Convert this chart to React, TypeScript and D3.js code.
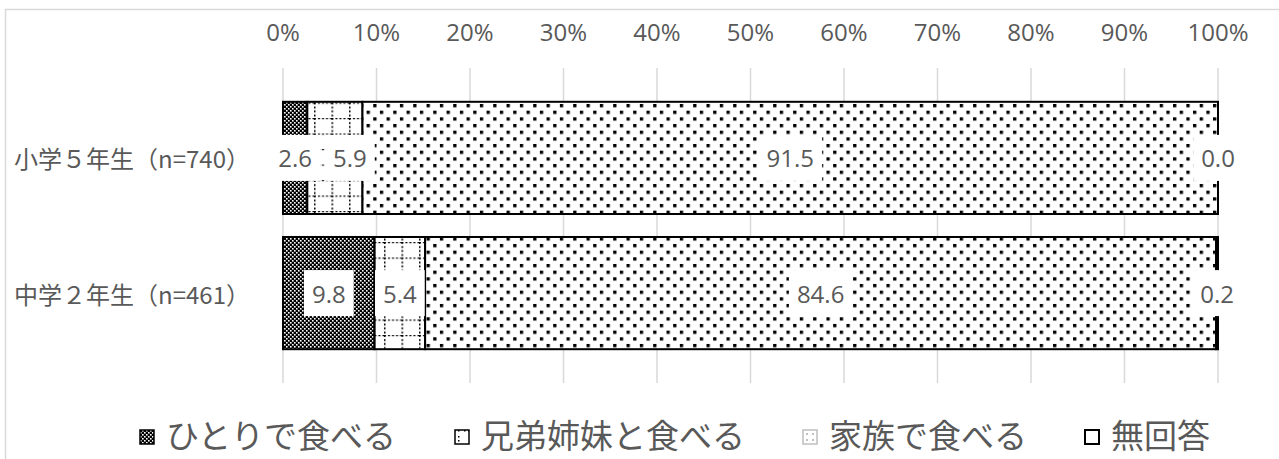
import React from "react";
import * as d3 from "d3";

const categories = ["小学５年生（n=740）", "中学２年生（n=461）"];
const seriesNames = ["ひとりで食べる", "兄弟姉妹と食べる", "家族で食べる", "無回答"];
const alone = [2.6, 9.8];
const siblings = [5.9, 5.4];
const family = [91.5, 84.6];
const noAnswer = [0.0, 0.2];
const tickValues = [0, 10, 20, 30, 40, 50, 60, 70, 80, 90, 100];

const W = 1279;
const H = 459;
const TEXT = "#595959";
const GRID = "#d9d9d9";
const NUM_FONT = "'Open Sans', 'DejaVu Sans', sans-serif";
const JP_FONT = "'Noto Sans CJK JP', 'Noto Sans', sans-serif";

const fills = ["url(#pAlone)", "url(#pSib)", "url(#pFam)", "#ffffff"];

let ctx: CanvasRenderingContext2D | null = null;
function measure(text: string, font: string): number {
  if (!ctx) ctx = document.createElement("canvas").getContext("2d");
  if (!ctx) return text.length * 12;
  ctx.font = font;
  return ctx.measureText(text).width;
}

export default function App() {
  const rows = categories.map((c, i) => ({
    cat: c,
    [seriesNames[0]]: alone[i],
    [seriesNames[1]]: siblings[i],
    [seriesNames[2]]: family[i],
    [seriesNames[3]]: noAnswer[i],
  }));
  const stack = d3.stack<any>().keys(seriesNames)(rows);

  const x = d3.scaleLinear().domain([0, 100]).range([283, 1218]);
  const y = d3
    .scaleBand<string>()
    .domain(categories)
    .range([68, 383])
    .paddingInner(0.17)
    .paddingOuter(0.25);
  const bw = y.bandwidth();

  // Data labels with overlap avoidance
  const labelFontSize = 24;
  const labelFont = `${labelFontSize}px 'Open Sans'`;
  const pad = 8;
  const boxH = 46;
  const labels: { x: number; y: number; w: number; text: string }[] = [];
  categories.forEach((c, ci) => {
    let prevRight = -Infinity;
    stack.forEach((s) => {
      const d = s[ci];
      const v = d[1] - d[0];
      const text = v.toFixed(1);
      const w = measure(text, labelFont) + pad * 2;
      let cx = x((d[0] + d[1]) / 2);
      if (cx - w / 2 < prevRight + 5) cx = prevRight + 5 + w / 2;
      prevRight = cx + w / 2;
      labels.push({ x: cx, y: (y(c) as number) + bw / 2, w, text });
    });
  });

  // Legend layout
  const legFontSize = 33;
  const legFont = `${legFontSize}px 'Noto Sans CJK JP'`;
  const iconSize = 14;
  const iconGap = 12;
  const itemGap = 58;
  const widths = seriesNames.map((n) => iconSize + iconGap + measure(n, legFont));
  const total = d3.sum(widths) + itemGap * (seriesNames.length - 1);
  let lx = 675 - total / 2;
  const legendItems = seriesNames.map((n, i) => {
    const item = { name: n, x: lx, i };
    lx += widths[i] + itemGap;
    return item;
  });
  const legY = 434;

  return (
    <svg
      width={W}
      height={H}
      style={{ position: "absolute", left: 0, top: 0, background: "#fff" }}
    >
      <defs>
        <pattern id="pAlone" patternUnits="userSpaceOnUse" width={4} height={4}>
          <rect width={4} height={4} fill="#000" />
          <rect x={0} y={0} width={1.6} height={1.6} fill="#fff" />
          <rect x={2} y={2} width={1.6} height={1.6} fill="#fff" />
        </pattern>
        <pattern id="pSib" patternUnits="userSpaceOnUse" width={17.5} height={15.5} x={314} y={118}>
          <rect width={17.5} height={15.5} fill="#fff" />
          <line x1={0.5} y1={0} x2={0.5} y2={15.5} stroke="#000" strokeWidth={2} strokeDasharray="2,2" />
          <line x1={0} y1={0.5} x2={17.5} y2={0.5} stroke="#000" strokeWidth={1.4} strokeDasharray="2,2" />
        </pattern>
        <pattern id="pFam" patternUnits="userSpaceOnUse" width={13.33} height={13.33} x={0} y={104}>
          <rect width={13.33} height={13.33} fill="#fff" />
          <rect x={0} y={0} width={3.3} height={3.3} fill="#000" />
          <rect x={6.67} y={6.67} width={3.3} height={3.3} fill="#000" />
        </pattern>
        <pattern id="pSibIcon" patternUnits="userSpaceOnUse" width={14} height={14} x={0} y={0}>
          <rect width={14} height={14} fill="#fff" />
          <rect x={10} y={2} width={1.5} height={1.5} fill="#000" />
          <rect x={10} y={6} width={1.5} height={1.5} fill="#000" />
          <rect x={2} y={10} width={1.5} height={1.5} fill="#000" />
          <rect x={6} y={10} width={1.5} height={1.5} fill="#000" />
          <rect x={10} y={10} width={1.5} height={1.5} fill="#000" />
        </pattern>
      </defs>

      {/* chart frame */}
      <rect x={5.5} y={9.5} width={1400} height={600} fill="none" stroke={GRID} strokeWidth={1.5} />

      {/* gridlines */}
      {tickValues.map((t) => (
        <line key={t} x1={x(t)} x2={x(t)} y1={68} y2={383} stroke={GRID} strokeWidth={1.5} />
      ))}

      {/* tick labels */}
      {tickValues.map((t) => (
        <text
          key={"t" + t}
          x={x(t)}
          y={31}
          textAnchor="middle"
          dominantBaseline="central"
          fontFamily={NUM_FONT}
          fontSize={24}
          fill={TEXT}
        >
          {t + "%"}
        </text>
      ))}

      {/* bars */}
      {stack.map((s, si) =>
        s.map((d, ci) => (
          <rect
            key={si + "-" + ci}
            x={x(d[0])}
            y={y(categories[ci]) as number}
            width={Math.max(0, x(d[1]) - x(d[0]))}
            height={bw}
            fill={fills[si]}
            stroke="#000"
            strokeWidth={2}
          />
        ))
      )}

      {/* data labels */}
      {labels.map((l, i) => (
        <g key={"l" + i}>
          <rect x={l.x - l.w / 2} y={l.y - boxH / 2} width={l.w} height={boxH} fill="#fff" />
          <text
            x={l.x}
            y={l.y}
            textAnchor="middle"
            dominantBaseline="central"
            fontFamily={NUM_FONT}
            fontSize={labelFontSize}
            fill={TEXT}
          >
            {l.text}
          </text>
        </g>
      ))}

      {/* category labels */}
      {categories.map((c) => (
        <text
          key={c}
          x={250}
          y={(y(c) as number) + bw / 2}
          textAnchor="end"
          dominantBaseline="central"
          fontFamily={JP_FONT}
          fontSize={24}
          fill={TEXT}
        >
          {c}
        </text>
      ))}

      {/* legend */}
      {legendItems.map((it) => {
        const iconFill =
          it.i === 0 ? "url(#pAlone)" : it.i === 1 ? "url(#pSibIcon)" : "#ffffff";
        const iconStroke = it.i === 2 ? "#bfbfbf" : "#000";
        return (
          <g key={it.name}>
            <rect
              x={it.x}
              y={legY - iconSize / 2 + 3}
              width={iconSize}
              height={iconSize}
              fill={iconFill}
              stroke={iconStroke}
              strokeWidth={it.i === 3 ? 2 : 1.5}
            />
            {it.i === 2 && (
              <g fill="#bfbfbf">
                <rect x={it.x + 3} y={legY - 1} width={2} height={2} />
                <rect x={it.x + 9} y={legY - 1} width={2} height={2} />
                <rect x={it.x + 3} y={legY + 5} width={2} height={2} />
                <rect x={it.x + 9} y={legY + 5} width={2} height={2} />
              </g>
            )}
            <text
              x={it.x + iconSize + iconGap}
              y={legY}
              dominantBaseline="central"
              fontFamily={JP_FONT}
              fontSize={legFontSize}
              fill={TEXT}
            >
              {it.name}
            </text>
          </g>
        );
      })}
    </svg>
  );
}
